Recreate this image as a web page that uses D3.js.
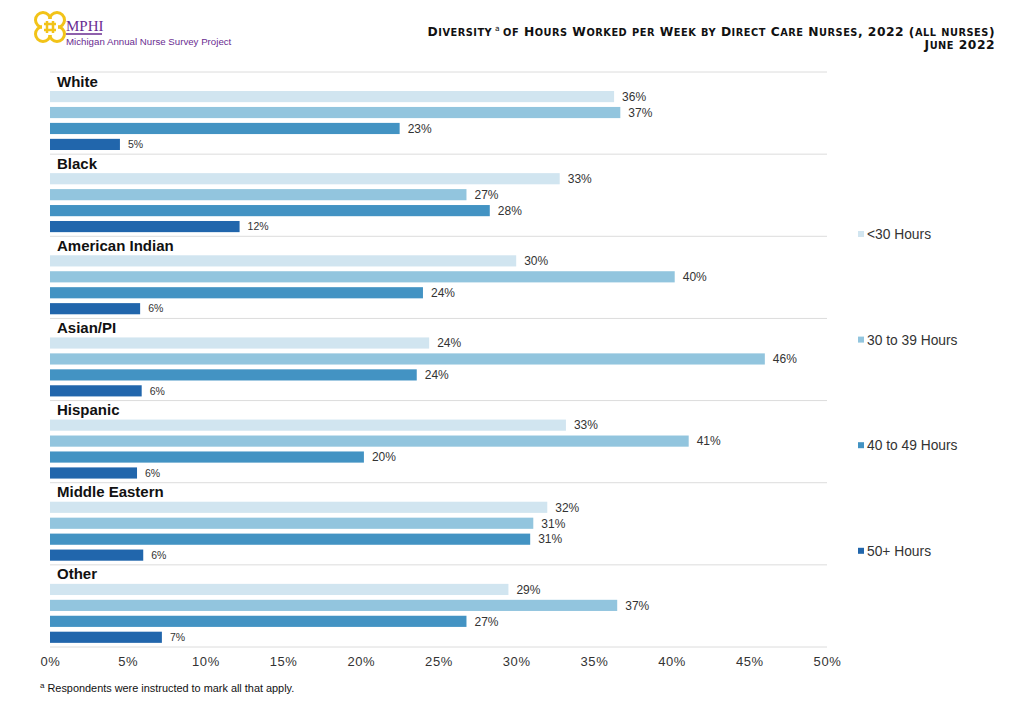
<!DOCTYPE html>
<html><head><meta charset="utf-8">
<script src="https://cdn.jsdelivr.net/npm/d3@7"></script>
<style>body{margin:0;background:#fff}svg{display:block}</style>
</head><body><svg id="c" width="1024" height="707"></svg>
<script>
const groups = ["White","Black","American Indian","Asian/PI","Hispanic","Middle Eastern","Other"];
const seriesNames = ["<30 Hours","30 to 39 Hours","40 to 49 Hours","50+ Hours"];
const under30 = [36.3,32.8,30.0,24.4,33.2,32.0,29.5];
const h30to39 = [36.7,26.8,40.2,46.0,41.1,31.1,36.5];
const h40to49 = [22.5,28.3,24.0,23.6,20.2,30.9,26.8];
const h50plus = [4.5,12.2,5.8,5.9,5.6,6.0,7.2];
const labels30 = ["36%","33%","30%","24%","33%","32%","29%"];
const labels3039 = ["37%","27%","40%","46%","41%","31%","37%"];
const labels4049 = ["23%","28%","24%","24%","20%","31%","27%"];
const labels50 = ["5%","12%","6%","6%","6%","6%","7%"];
const ticks = [0,5,10,15,20,25,30,35,40,45,50];
const colors = ["#d1e5f0","#92c5de","#4393c3","#2166ac"];

const series = [under30,h30to39,h40to49,h50plus];
const seriesLabels = [labels30,labels3039,labels4049,labels50];

const svg = d3.select("#c");
const x = d3.scaleLinear().domain([0,50]).range([50,827]);
const gy = d3.scaleBand().domain(groups).range([72,647]).paddingInner(0).paddingOuter(0);
const by = d3.scaleBand().domain(d3.range(4)).range([19,78]).paddingInner(0.3).paddingOuter(0);
const SANS = "Liberation Sans, Arial, sans-serif";

// separator lines
svg.append("g").selectAll("line").data(groups.concat(["_end"])).join("line")
  .attr("x1",50).attr("x2",827)
  .attr("y1",(d,i)=> 72 + i*gy.bandwidth()).attr("y2",(d,i)=> 72 + i*gy.bandwidth())
  .attr("stroke","#dcdcdc").attr("stroke-width",1);

const g = svg.append("g").selectAll("g").data(groups).join("g")
  .attr("transform",d=>`translate(0,${gy(d)})`);

g.append("text").attr("x",57).attr("y",14.5).text(d=>d)
  .attr("font-family",SANS).attr("font-weight","bold")
  .attr("font-size",15).attr("fill","#111");

series.forEach((s,si)=>{
  g.append("rect").attr("x",x(0)).attr("y",by(si))
    .attr("width",(d,i)=>x(s[i])-x(0)).attr("height",by.bandwidth())
    .attr("fill",colors[si]);
  g.append("text").attr("x",(d,i)=>x(s[i])+8)
    .attr("y",by(si)+by.bandwidth()/2).attr("dy","0.36em")
    .text((d,i)=>seriesLabels[si][i])
    .attr("font-family",SANS)
    .attr("font-size",si===3?10.5:12).attr("fill","#333");
});

// x axis
const axis = d3.axisBottom(x).tickValues(ticks).tickFormat(d=>d+"%").tickSize(0);
const ax = svg.append("g").attr("transform","translate(0,654)").call(axis);
ax.select(".domain").remove();
ax.selectAll("text").attr("font-family",SANS)
  .attr("font-size",13).attr("fill","#333").attr("letter-spacing","0.6px").attr("dy","0.71em");

// legend
const leg = svg.append("g").selectAll("g").data(seriesNames).join("g")
  .attr("transform",(d,i)=>`translate(858,${234 + i*105.6})`);
leg.append("rect").attr("x",0).attr("y",-3).attr("width",6).attr("height",6).attr("fill",(d,i)=>colors[i]);
leg.append("text").attr("x",9).attr("y",0).attr("dy","0.36em").text(d=>d)
  .attr("font-family",SANS).attr("font-size",13.8).attr("fill","#333");

// footnote
const fn = svg.append("text").attr("x",40).attr("y",692)
  .attr("font-family",SANS).attr("font-size",10.9).attr("fill","#111");
fn.append("tspan").attr("font-size",8).attr("dy",-4).text("a");
fn.append("tspan").attr("dy",4).text(" Respondents were instructed to mark all that apply.");

// title with manual small caps
function smallCaps(sel, str, big, small){
  const runs = [];
  for (const ch of str){
    const isLow = ch !== ch.toUpperCase();
    const last = runs[runs.length-1];
    if (last && last.low === isLow) last.t += ch; else runs.push({t:ch, low:isLow});
  }
  runs.forEach((r,i)=> {
    const ts = sel.append("tspan").attr("font-size", r.low?small:big).text(r.low? r.t.toUpperCase(): r.t);
    if (i===0 && sel.__dy) ts.attr("dy", sel.__dy);
  });
}
const TFONT = "DejaVu Sans, Verdana, sans-serif";
const BIG = 12.3, SMALL = 9.8;
const t1 = svg.append("text").attr("x",995).attr("y",36).attr("text-anchor","end")
  .attr("font-family",TFONT).attr("font-weight","bold").attr("fill","#111").attr("letter-spacing","0.5px");
smallCaps(t1,"Diversity",BIG,SMALL);
t1.append("tspan").attr("font-size",7.5).attr("dy",-5).attr("font-weight","normal").text(" a ");
t1.__dy = 5;
smallCaps(t1,"of Hours Worked per Week by Direct Care Nurses, 2022 (all nurses)",BIG,SMALL);
const t2 = svg.append("text").attr("x",995).attr("y",48.5).attr("text-anchor","end")
  .attr("font-family",TFONT).attr("font-weight","bold").attr("fill","#111").attr("letter-spacing","0.5px");
smallCaps(t2,"June 2022",BIG,SMALL);

// logo
const logo = svg.append("g").attr("transform","translate(50,27)");
[[-7,-7],[7,-7],[-7,7],[7,7]].forEach(([dx,dy])=>{
  logo.append("circle").attr("cx",dx).attr("cy",dy).attr("r",7.5).attr("fill","none").attr("stroke","#f2c318").attr("stroke-width",3);
});
logo.append("rect").attr("x",-8).attr("y",-8).attr("width",16).attr("height",16).attr("fill","#fff");
logo.append("path").attr("d","M-6,-3H6M-6,3H6M-3,-6V6M3,-6V6").attr("stroke","#f2c318").attr("stroke-width",2.5);
svg.append("text").attr("x",66).attr("y",31).text("MPHI")
  .attr("font-family","Liberation Serif, Times New Roman, serif").attr("font-size",15).attr("fill","#6a2c91");
svg.append("line").attr("x1",66).attr("x2",102).attr("y1",34).attr("y2",34).attr("stroke","#6a2c91").attr("stroke-width",1.5);
svg.append("text").attr("x",66).attr("y",45).text("Michigan Annual Nurse Survey Project")
  .attr("font-family",SANS).attr("font-size",9.7).attr("fill","#6a2c91");
</script></body></html>
